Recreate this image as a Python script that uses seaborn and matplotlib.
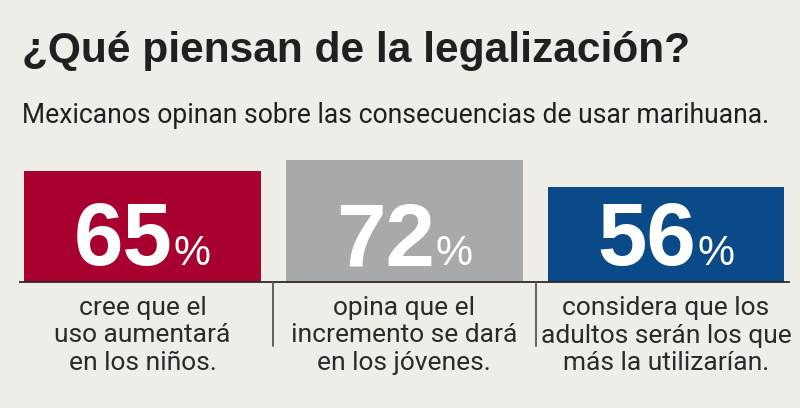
import matplotlib
matplotlib.use("Agg")
import matplotlib.pyplot as plt
import seaborn as sns
import pandas as pd

# ---- data ----
categories = ["niños", "jóvenes", "adultos"]
values = [65, 72, 56]
value_labels = ["65", "72", "56"]
captions = [
    "cree que el\nuso aumentará\nen los niños.",
    "opina que el\nincremento se dará\nen los jóvenes.",
    "considera que los\nadultos serán los que\nmás la utilizarían.",
]
colors = ["#a8002f", "#a8a9ab", "#0b4a89"]
title = "¿Qué piensan de la legalización?"
subtitle = "Mexicanos opinan sobre las consecuencias de usar marihuana."

BG = "#eeede8"
TXT = "#231f20"

sns.set_theme(style="white")
plt.rcParams["font.family"] = ["Liberation Sans", "DejaVu Sans"]

W, H = 800, 408
fig = plt.figure(figsize=(W / 100, H / 100), dpi=100, facecolor=BG)

# axes: bar base at y=282px, 100 units = 170px; categories spaced 261.75px
left_px, spacing = 11.6, 261.75
ax = fig.add_axes([left_px / W, 1 - 282 / H, 3 * spacing / W, 170 / H])
ax.set_facecolor("none")

df = pd.DataFrame({"cat": categories, "val": values})
sns.barplot(data=df, x="cat", y="val", hue="cat", palette=colors,
            width=0.905, saturation=1, legend=False, ax=ax, linewidth=0)
ax.set_ylim(0, 100)
ax.set_xlim(-0.5, 2.5)
for s in ax.spines.values():
    s.set_visible(False)
ax.set_xticks([])
ax.set_yticks([])
ax.set_xlabel("")
ax.set_ylabel("")

# baseline and separators
ax.plot([-0.472, 2.474], [0, 0], color="#2b2b2b", lw=1.3, clip_on=False,
        solid_capstyle="butt")
sep_len = 64 / 1.70
for xs in [0.5, 1.505]:
    ax.plot([xs, xs], [0, -sep_len], color="#555555", lw=1.3, clip_on=False)

fig.canvas.draw()
renderer = fig.canvas.get_renderer()


def fit_width(t, target):
    w = t.get_window_extent(renderer).width
    t.set_fontsize(t.get_fontsize() * target / w)


# big numbers with smaller percent sign, centered together in each bar
gap = 1
for i, lab in enumerate(value_labels):
    t1 = ax.annotate(lab, xy=(i, 0), xytext=(0, 17), textcoords="offset pixels",
                     ha="right", va="baseline", color="white", fontsize=64,
                     fontweight="bold")
    t2 = ax.annotate("%", xy=(i, 0), xytext=(0, 17), textcoords="offset pixels",
                     ha="left", va="baseline", color="white", fontsize=30)
    wn = t1.get_window_extent(renderer).width
    wp = t2.get_window_extent(renderer).width
    total = wn + gap + wp
    start = -total / 2
    t1.set_position((start + wn, 17))
    t2.set_position((start + wn + gap, 17))

# captions (one line at a time, baselines below bar base)
for i, cap in enumerate(captions):
    for k, line in enumerate(cap.split("\n")):
        ax.annotate(line, xy=(i, 0), xytext=(0, -(33 + 27.5 * k)),
                    textcoords="offset pixels", ha="center", va="baseline",
                    color="#2a2a2a", fontsize=19, family=["Roboto", "DejaVu Sans"])

tt = fig.text(22 / W, 1 - 62 / H, title, fontsize=30, fontweight="bold",
              color=TXT, ha="left", va="baseline")
fit_width(tt, 670)
st = fig.text(22 / W, 1 - 123 / H, subtitle, fontsize=20, color=TXT,
              ha="left", va="baseline", family=["Roboto", "DejaVu Sans"])
fit_width(st, 745)

fig.savefig("out.png", dpi=100, facecolor=BG)
